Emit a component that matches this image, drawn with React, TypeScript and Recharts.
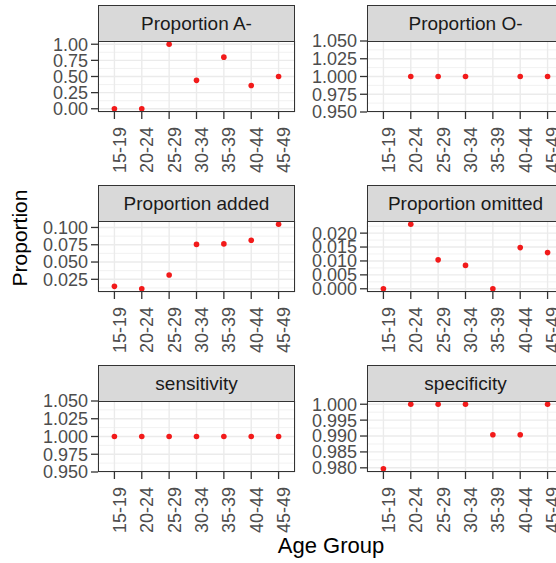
import React from "react";
import {
  ScatterChart,
  Scatter,
  XAxis,
  YAxis,
  CartesianGrid,
} from "recharts";

const ageGroups = ["15-19", "20-24", "25-29", "30-34", "35-39", "40-44", "45-49"];

const propAMinus = [0, 0, 1, 0.44, 0.8, 0.36, 0.5];
const propOMinus = [null, 1, 1, 1, null, 1, 1];
const propAdded = [0.0148, 0.0113, 0.0312, 0.0755, 0.0762, 0.0815, 0.1047];
const propOmitted = [0, 0.0232, 0.0104, 0.0084, 0, 0.0148, 0.013];
const sensitivity = [1, 1, 1, 1, 1, 1, 1];
const specificity = [0.9797, 1, 1, 1, 0.9904, 0.9904, 1];

const ticksAMinus = [0, 0.25, 0.5, 0.75, 1];
const ticksOMinus = [0.95, 0.975, 1, 1.025, 1.05];
const ticksAdded = [0.025, 0.05, 0.075, 0.1];
const ticksOmitted = [0, 0.005, 0.01, 0.015, 0.02];
const ticksSensitivity = [0.95, 0.975, 1, 1.025, 1.05];
const ticksSpecificity = [0.98, 0.985, 0.99, 0.995, 1];

const panelTitles = [
  "Proportion A-",
  "Proportion O-",
  "Proportion added",
  "Proportion omitted",
  "sensitivity",
  "specificity",
];

const FONT = "'Liberation Sans', Arial, Helvetica, sans-serif";
const PANEL_W = 197;
const PANEL_H = 71;
const STRIP_H = 36;
const Y_AXIS_W = 90;
const X_AXIS_H = 70;
const TOP_PAD = 14;
const COL_LEFT = [98, 367];
const ROW_TOP = [41, 221, 401];

function computeDomain(vals: (number | null)[]): [number, number] {
  const v = vals.filter((d): d is number => d !== null);
  const mn = Math.min(...v);
  const mx = Math.max(...v);
  const r = mx - mn;
  if (r === 0) return [mn - Math.abs(mn) * 0.05, mx + Math.abs(mx) * 0.05];
  return [mn - r * 0.05, mx + r * 0.05];
}

function minorTicks(ticks: number[], domain: [number, number]) {
  const step = ticks[1] - ticks[0];
  const out: number[] = [];
  for (let i = -1; i < ticks.length; i++) {
    const m = ticks[0] + (i + 0.5) * step;
    if (m > domain[0] && m < domain[1]) out.push(m);
  }
  return out;
}

const XTick = (props: any) => {
  const { x, y, payload } = props;
  const label = ageGroups[Math.round(payload.value) - 1];
  const ax = x + 11.5;
  return (
    <text
      x={ax}
      y={y}
      transform={`rotate(-90, ${ax}, ${y})`}
      textAnchor="end"
      fill="#4D4D4D"
      fontSize={18}
      fontFamily={FONT}
    >
      {label}
    </text>
  );
};

const Dot = (props: any) => {
  const { cx, cy } = props;
  if (cx == null || cy == null) return null;
  return <circle cx={cx} cy={cy} r={2.8} fill="#F21A1A" />;
};

type PanelProps = {
  title: string;
  values: (number | null)[];
  ticks: number[];
  decimals: number;
  left: number;
  top: number;
};

function Panel({ title, values, ticks, decimals, left, top }: PanelProps) {
  const data = values
    .map((v, i) => ({ x: i + 1, y: v }))
    .filter((d) => d.y !== null);
  const domain = computeDomain(values);
  const minors = minorTicks(ticks, domain);
  const xTicks = ageGroups.map((_, i) => i + 1);
  return (
    <>
      <div
        style={{
          position: "absolute",
          left: left - Y_AXIS_W,
          top: top - TOP_PAD,
        }}
      >
        <ScatterChart
          width={Y_AXIS_W + PANEL_W + 2}
          height={TOP_PAD + PANEL_H + X_AXIS_H}
          margin={{ top: TOP_PAD, right: 2, bottom: 0, left: 0 }}
        >
          <CartesianGrid
            stroke="#EBEBEB"
            strokeWidth={0.7}
            vertical={false}
            horizontalValues={minors}
          />
          <CartesianGrid stroke="#EBEBEB" strokeWidth={1.4} />
          <XAxis
            type="number"
            dataKey="x"
            domain={[0.4, 7.6]}
            ticks={xTicks}
            interval={0}
            allowDataOverflow
            axisLine={false}
            tickLine={{ stroke: "#333333", strokeWidth: 1.3 }}
            tickSize={7}
            tickMargin={8}
            height={X_AXIS_H}
            tick={<XTick />}
          />
          <YAxis
            type="number"
            dataKey="y"
            domain={domain}
            ticks={ticks}
            interval={0}
            allowDataOverflow
            axisLine={false}
            tickLine={{ stroke: "#333333", strokeWidth: 1.3 }}
            tickSize={7}
            tickMargin={3}
            width={Y_AXIS_W}
            tickFormatter={(v: number) => v.toFixed(decimals)}
            tick={{ fill: "#4D4D4D", fontSize: 18, fontFamily: FONT }}
          />
          <Scatter data={data} isAnimationActive={false} shape={<Dot />} />
        </ScatterChart>
      </div>
      <div
        style={{
          position: "absolute",
          left,
          top,
          width: PANEL_W,
          height: PANEL_H,
          boxSizing: "border-box",
          border: "1.3px solid #333333",
          pointerEvents: "none",
        }}
      />
      <div
        style={{
          position: "absolute",
          left,
          top: top - STRIP_H,
          width: PANEL_W,
          height: STRIP_H + 1,
          boxSizing: "border-box",
          border: "1.3px solid #333333",
          background: "#D9D9D9",
          display: "flex",
          alignItems: "center",
          justifyContent: "center",
          fontFamily: FONT,
          fontSize: 19,
          color: "#1A1A1A",
          whiteSpace: "nowrap",
        }}
      >
        {title}
      </div>
    </>
  );
}

export default function App() {
  const panels = [
    { values: propAMinus, ticks: ticksAMinus, decimals: 2 },
    { values: propOMinus, ticks: ticksOMinus, decimals: 3 },
    { values: propAdded, ticks: ticksAdded, decimals: 3 },
    { values: propOmitted, ticks: ticksOmitted, decimals: 3 },
    { values: sensitivity, ticks: ticksSensitivity, decimals: 3 },
    { values: specificity, ticks: ticksSpecificity, decimals: 3 },
  ];
  return (
    <div
      style={{
        position: "absolute",
        left: 0,
        top: 0,
        width: 556,
        height: 563,
        overflow: "hidden",
        background: "#FFFFFF",
      }}
    >
      {panels.map((p, i) => (
        <Panel
          key={i}
          title={panelTitles[i]}
          values={p.values}
          ticks={p.ticks}
          decimals={p.decimals}
          left={COL_LEFT[i % 2]}
          top={ROW_TOP[Math.floor(i / 2)]}
        />
      ))}
      <svg
        width={556}
        height={563}
        style={{ position: "absolute", left: 0, top: 0, pointerEvents: "none" }}
      >
        <text
          x={27}
          y={238}
          transform="rotate(-90, 27, 238)"
          textAnchor="middle"
          fontSize={21}
          fontFamily={FONT}
          fill="#000000"
        >
          Proportion
        </text>
        <text
          x={331}
          y={553}
          textAnchor="middle"
          fontSize={22}
          fontFamily={FONT}
          fill="#000000"
        >
          Age Group
        </text>
      </svg>
    </div>
  );
}
